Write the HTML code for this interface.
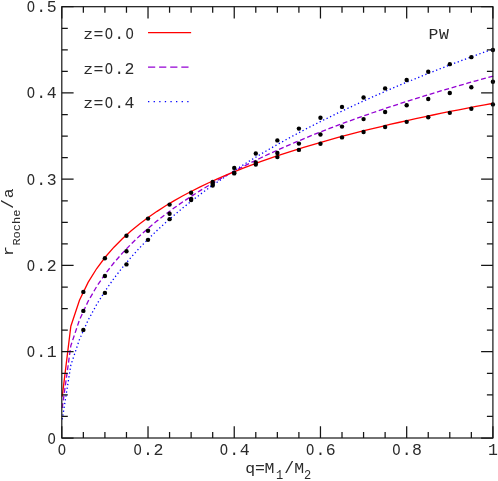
<!DOCTYPE html>
<html><head><meta charset="utf-8"><title>Roche lobe radius (PW)</title>
<style>
html,body{margin:0;padding:0;background:#fff;}
body{width:498px;height:481px;overflow:hidden;}
svg{display:block;will-change:transform;transform:translateZ(0);}
text{font-family:"Liberation Mono",monospace;fill:#2a2a2a;}
</style></head><body>
<svg width="498" height="481" viewBox="0 0 498 481">
<rect x="0" y="0" width="498" height="481" fill="#fff"/>

<polyline points="62.23,419.42 70.85,365.08 79.48,339.44 88.10,320.24 96.72,304.37 105.34,290.63 113.96,278.40 122.59,267.30 131.21,257.10 139.83,247.63 148.45,238.76 157.07,230.42 165.70,222.52 174.32,215.01 182.94,207.84 191.56,200.99 200.18,194.41 208.81,188.08 217.43,181.98 226.05,176.08 234.67,170.38 243.29,164.86 251.92,159.50 260.54,154.29 269.16,149.22 277.78,144.29 286.40,139.48 295.03,134.79 303.65,130.21 312.27,125.74 320.89,121.36 329.51,117.08 338.14,112.88 346.76,108.78 355.38,104.75 364.00,100.80 372.62,96.92 381.25,93.11 389.87,89.37 398.49,85.70 407.11,82.08 415.73,78.53 424.36,75.03 432.98,71.59 441.60,68.20 450.22,64.86 458.84,61.58 467.47,58.34 476.09,55.14 484.71,51.99 493.33,48.89" fill="none" stroke="#0000ff" stroke-width="1.3" stroke-dasharray="1.3 2.56" />
<polyline points="62.23,408.01 70.85,345.66 79.48,319.83 88.10,301.32 96.72,286.44 105.34,273.83 113.96,262.78 122.59,252.90 131.21,243.92 139.83,235.67 148.45,228.02 157.07,220.87 165.70,214.16 174.32,207.83 182.94,201.82 191.56,196.10 200.18,190.65 208.81,185.43 217.43,180.42 226.05,175.60 234.67,170.96 243.29,166.48 251.92,162.16 260.54,157.97 269.16,153.91 277.78,149.97 286.40,146.14 295.03,142.42 303.65,138.79 312.27,135.26 320.89,131.82 329.51,128.46 338.14,125.18 346.76,121.97 355.38,118.83 364.00,115.76 372.62,112.76 381.25,109.81 389.87,106.93 398.49,104.10 407.11,101.32 415.73,98.60 424.36,95.92 432.98,93.29 441.60,90.71 450.22,88.17 458.84,85.67 467.47,83.21 476.09,80.80 484.71,78.42 493.33,76.07" fill="none" stroke="#9400d3" stroke-width="1.3" stroke-dasharray="4.96 2.68" />
<polyline points="62.23,396.59 70.85,326.23 79.48,300.22 88.10,282.39 96.72,268.51 105.34,257.03 113.96,247.17 122.59,238.50 131.21,230.74 139.83,223.71 148.45,217.28 157.07,211.33 165.70,205.81 174.32,200.64 182.94,195.79 191.56,191.22 200.18,186.88 208.81,182.77 217.43,178.85 226.05,175.11 234.67,171.54 243.29,168.11 251.92,164.81 260.54,161.64 269.16,158.59 277.78,155.64 286.40,152.79 295.03,150.04 303.65,147.37 312.27,144.78 320.89,142.27 329.51,139.84 338.14,137.47 346.76,135.16 355.38,132.92 364.00,130.73 372.62,128.60 381.25,126.51 389.87,124.48 398.49,122.50 407.11,120.56 415.73,118.66 424.36,116.81 432.98,114.99 441.60,113.21 450.22,111.47 458.84,109.77 467.47,108.09 476.09,106.45 484.71,104.84 493.33,103.26" fill="none" stroke="#ff0000" stroke-width="1.3" />
<circle cx="83.35" cy="291.88" r="2.2" fill="#000"/>
<circle cx="104.91" cy="258.18" r="2.2" fill="#000"/>
<circle cx="126.47" cy="235.81" r="2.2" fill="#000"/>
<circle cx="148.02" cy="218.61" r="2.2" fill="#000"/>
<circle cx="169.57" cy="204.62" r="2.2" fill="#000"/>
<circle cx="191.13" cy="192.78" r="2.2" fill="#000"/>
<circle cx="212.69" cy="181.98" r="2.2" fill="#000"/>
<circle cx="234.24" cy="173.42" r="2.2" fill="#000"/>
<circle cx="255.79" cy="164.61" r="2.2" fill="#000"/>
<circle cx="277.35" cy="157.10" r="2.2" fill="#000"/>
<circle cx="298.90" cy="149.92" r="2.2" fill="#000"/>
<circle cx="320.46" cy="143.70" r="2.2" fill="#000"/>
<circle cx="342.01" cy="137.40" r="2.2" fill="#000"/>
<circle cx="363.57" cy="132.04" r="2.2" fill="#000"/>
<circle cx="385.12" cy="126.94" r="2.2" fill="#000"/>
<circle cx="406.68" cy="121.84" r="2.2" fill="#000"/>
<circle cx="428.24" cy="117.18" r="2.2" fill="#000"/>
<circle cx="449.79" cy="112.86" r="2.2" fill="#000"/>
<circle cx="471.35" cy="108.71" r="2.2" fill="#000"/>
<circle cx="492.90" cy="104.39" r="2.2" fill="#000"/>
<circle cx="83.35" cy="310.89" r="2.2" fill="#000"/>
<circle cx="104.91" cy="276.07" r="2.2" fill="#000"/>
<circle cx="126.47" cy="251.18" r="2.2" fill="#000"/>
<circle cx="148.02" cy="230.79" r="2.2" fill="#000"/>
<circle cx="169.57" cy="213.77" r="2.2" fill="#000"/>
<circle cx="191.13" cy="198.83" r="2.2" fill="#000"/>
<circle cx="212.69" cy="183.79" r="2.2" fill="#000"/>
<circle cx="234.24" cy="172.82" r="2.2" fill="#000"/>
<circle cx="255.79" cy="162.54" r="2.2" fill="#000"/>
<circle cx="277.35" cy="152.95" r="2.2" fill="#000"/>
<circle cx="298.90" cy="143.62" r="2.2" fill="#000"/>
<circle cx="320.46" cy="134.54" r="2.2" fill="#000"/>
<circle cx="342.01" cy="126.60" r="2.2" fill="#000"/>
<circle cx="363.57" cy="119.08" r="2.2" fill="#000"/>
<circle cx="385.12" cy="111.99" r="2.2" fill="#000"/>
<circle cx="406.68" cy="105.26" r="2.2" fill="#000"/>
<circle cx="428.24" cy="98.95" r="2.2" fill="#000"/>
<circle cx="449.79" cy="93.07" r="2.2" fill="#000"/>
<circle cx="471.35" cy="87.20" r="2.2" fill="#000"/>
<circle cx="492.90" cy="81.75" r="2.2" fill="#000"/>
<circle cx="83.35" cy="329.90" r="2.2" fill="#000"/>
<circle cx="104.91" cy="292.92" r="2.2" fill="#000"/>
<circle cx="126.47" cy="264.40" r="2.2" fill="#000"/>
<circle cx="148.02" cy="239.87" r="2.2" fill="#000"/>
<circle cx="169.57" cy="219.13" r="2.2" fill="#000"/>
<circle cx="191.13" cy="199.95" r="2.2" fill="#000"/>
<circle cx="212.69" cy="185.61" r="2.2" fill="#000"/>
<circle cx="234.24" cy="167.90" r="2.2" fill="#000"/>
<circle cx="255.79" cy="153.55" r="2.2" fill="#000"/>
<circle cx="277.35" cy="140.42" r="2.2" fill="#000"/>
<circle cx="298.90" cy="128.58" r="2.2" fill="#000"/>
<circle cx="320.46" cy="117.78" r="2.2" fill="#000"/>
<circle cx="342.01" cy="106.90" r="2.2" fill="#000"/>
<circle cx="363.57" cy="97.48" r="2.2" fill="#000"/>
<circle cx="385.12" cy="88.41" r="2.2" fill="#000"/>
<circle cx="406.68" cy="79.94" r="2.2" fill="#000"/>
<circle cx="428.24" cy="71.82" r="2.2" fill="#000"/>
<circle cx="449.79" cy="64.13" r="2.2" fill="#000"/>
<circle cx="471.35" cy="57.13" r="2.2" fill="#000"/>
<circle cx="492.90" cy="49.96" r="2.2" fill="#000"/>
<line x1="148.02" y1="32.58" x2="191.13" y2="32.58" stroke="#ff0000" stroke-width="1.3"/>
<line x1="148.02" y1="67.08" x2="191.13" y2="67.08" stroke="#9400d3" stroke-width="1.15" stroke-dasharray="7.2 3.9"/>
<line x1="148.02" y1="101.59" x2="191.13" y2="101.59" stroke="#0000ff" stroke-width="1.3" stroke-dasharray="1.3 4.3"/>
<rect x="61.8" y="6.7" width="431.09999999999997" height="431.3" fill="none" stroke="#151515" stroke-width="1.2"/>
<path d="M61.80,438.0v-11.8M61.80,6.7v11.8M83.35,438.0v-6.0M83.35,6.7v6.0M104.91,438.0v-6.0M104.91,6.7v6.0M126.47,438.0v-6.0M126.47,6.7v6.0M148.02,438.0v-11.8M148.02,6.7v11.8M169.57,438.0v-6.0M169.57,6.7v6.0M191.13,438.0v-6.0M191.13,6.7v6.0M212.69,438.0v-6.0M212.69,6.7v6.0M234.24,438.0v-11.8M234.24,6.7v11.8M255.79,438.0v-6.0M255.79,6.7v6.0M277.35,438.0v-6.0M277.35,6.7v6.0M298.90,438.0v-6.0M298.90,6.7v6.0M320.46,438.0v-11.8M320.46,6.7v11.8M342.01,438.0v-6.0M342.01,6.7v6.0M363.57,438.0v-6.0M363.57,6.7v6.0M385.12,438.0v-6.0M385.12,6.7v6.0M406.68,438.0v-11.8M406.68,6.7v11.8M428.24,438.0v-6.0M428.24,6.7v6.0M449.79,438.0v-6.0M449.79,6.7v6.0M471.35,438.0v-6.0M471.35,6.7v6.0M492.90,438.0v-11.8M492.90,6.7v11.8M61.8,438.00h11.8M492.9,438.00h-11.8M61.8,416.44h6.0M492.9,416.44h-6.0M61.8,394.87h6.0M492.9,394.87h-6.0M61.8,373.31h6.0M492.9,373.31h-6.0M61.8,351.74h11.8M492.9,351.74h-11.8M61.8,330.18h6.0M492.9,330.18h-6.0M61.8,308.61h6.0M492.9,308.61h-6.0M61.8,287.04h6.0M492.9,287.04h-6.0M61.8,265.48h11.8M492.9,265.48h-11.8M61.8,243.91h6.0M492.9,243.91h-6.0M61.8,222.35h6.0M492.9,222.35h-6.0M61.8,200.78h6.0M492.9,200.78h-6.0M61.8,179.22h11.8M492.9,179.22h-11.8M61.8,157.65h6.0M492.9,157.65h-6.0M61.8,136.09h6.0M492.9,136.09h-6.0M61.8,114.52h6.0M492.9,114.52h-6.0M61.8,92.96h11.8M492.9,92.96h-11.8M61.8,71.39h6.0M492.9,71.39h-6.0M61.8,49.83h6.0M492.9,49.83h-6.0M61.8,28.26h6.0M492.9,28.26h-6.0M61.8,6.70h11.8M492.9,6.70h-11.8" fill="none" stroke="#151515" stroke-width="1.25"/>
<text transform="translate(61.80,454.90) scale(0.84,1.0)" text-anchor="middle" font-size="16.5">O</text>
<text transform="translate(137.67,454.90) scale(0.84,1.0)" text-anchor="middle" font-size="16.5">O</text>
<text transform="translate(132.72,454.90)" x="10.35 20.70" y="0" font-size="16.5">.2</text>
<text transform="translate(223.89,454.90) scale(0.84,1.0)" text-anchor="middle" font-size="16.5">O</text>
<text transform="translate(218.94,454.90)" x="10.35 20.70" y="0" font-size="16.5">.4</text>
<text transform="translate(310.11,454.90) scale(0.84,1.0)" text-anchor="middle" font-size="16.5">O</text>
<text transform="translate(305.16,454.90)" x="10.35 20.70" y="0" font-size="16.5">.6</text>
<text transform="translate(396.33,454.90) scale(0.84,1.0)" text-anchor="middle" font-size="16.5">O</text>
<text transform="translate(391.38,454.90)" x="10.35 20.70" y="0" font-size="16.5">.8</text>
<text transform="translate(487.95,454.90)" x="0.00" y="0" font-size="16.5">1</text>
<text transform="translate(51.65,443.50) scale(0.84,1.0)" text-anchor="middle" font-size="16.5">O</text>
<text transform="translate(30.95,357.24) scale(0.84,1.0)" text-anchor="middle" font-size="16.5">O</text>
<text transform="translate(26.00,357.24)" x="10.35 20.70" y="0" font-size="16.5">.1</text>
<text transform="translate(30.95,270.98) scale(0.84,1.0)" text-anchor="middle" font-size="16.5">O</text>
<text transform="translate(26.00,270.98)" x="10.35 20.70" y="0" font-size="16.5">.2</text>
<text transform="translate(30.95,184.72) scale(0.84,1.0)" text-anchor="middle" font-size="16.5">O</text>
<text transform="translate(26.00,184.72)" x="10.35 20.70" y="0" font-size="16.5">.3</text>
<text transform="translate(30.95,98.46) scale(0.84,1.0)" text-anchor="middle" font-size="16.5">O</text>
<text transform="translate(26.00,98.46)" x="10.35 20.70" y="0" font-size="16.5">.4</text>
<text transform="translate(30.95,12.20) scale(0.84,1.0)" text-anchor="middle" font-size="16.5">O</text>
<text transform="translate(26.00,12.20)" x="10.35 20.70" y="0" font-size="16.5">.5</text>
<text transform="translate(83.20,39.40) scale(1,0.87)" x="0.00" y="0" font-size="16.5">z</text>
<text transform="translate(93.55,39.40)" x="0.00" y="0" font-size="16.5">=</text>
<text transform="translate(108.85,39.40) scale(0.84,1.0)" text-anchor="middle" font-size="16.5">O</text>
<text transform="translate(129.55,39.40) scale(0.84,1.0)" text-anchor="middle" font-size="16.5">O</text>
<text transform="translate(103.90,39.40)" x="10.35" y="0" font-size="16.5">.</text>
<text transform="translate(83.20,73.80) scale(1,0.87)" x="0.00" y="0" font-size="16.5">z</text>
<text transform="translate(93.55,73.80)" x="0.00" y="0" font-size="16.5">=</text>
<text transform="translate(108.85,73.80) scale(0.84,1.0)" text-anchor="middle" font-size="16.5">O</text>
<text transform="translate(103.90,73.80)" x="10.35 20.70" y="0" font-size="16.5">.2</text>
<text transform="translate(83.20,108.10) scale(1,0.87)" x="0.00" y="0" font-size="16.5">z</text>
<text transform="translate(93.55,108.10)" x="0.00" y="0" font-size="16.5">=</text>
<text transform="translate(108.85,108.10) scale(0.84,1.0)" text-anchor="middle" font-size="16.5">O</text>
<text transform="translate(103.90,108.10)" x="10.35 20.70" y="0" font-size="16.5">.4</text>
<text transform="translate(428.60,38.60) scale(1,0.9)" x="0.00 10.35" y="0" font-size="16.5">PW</text>
<text transform="translate(245.20,473.10) scale(1,0.87)" x="0.00" y="0" font-size="16.5">q</text>
<text transform="translate(255.00,473.10)" x="0.00" y="0" font-size="16.5">=</text>
<text transform="translate(264.60,473.10) scale(1,0.87)" x="0.00" y="0" font-size="16.5">M</text>
<text transform="translate(276.10,479.00)" x="0.00" y="0" font-size="12.0">1</text>
<text transform="translate(284.30,473.10) scale(1,0.95)" x="0.00" y="0" font-size="16.5">/</text>
<text transform="translate(294.35,473.10) scale(1,0.87)" x="0.00" y="0" font-size="16.5">M</text>
<text transform="translate(304.00,479.10)" x="0.00" y="0" font-size="12.0">2</text>
<text transform="translate(13.30,256.00) rotate(-90) scale(1,0.87)" x="0.00" y="0" font-size="16.5">r</text>
<text transform="translate(20.00,245.60) rotate(-90) scale(1,0.95)" x="0.00 7.20 14.40 21.60 28.80" y="0" font-size="12.0">Roche</text>
<text transform="translate(13.30,209.00) rotate(-90) scale(1,0.95)" x="0.00" y="0" font-size="16.5">/</text>
<text transform="translate(13.30,198.30) rotate(-90) scale(1,0.87)" x="0.00" y="0" font-size="16.5">a</text>
</svg></body></html>
